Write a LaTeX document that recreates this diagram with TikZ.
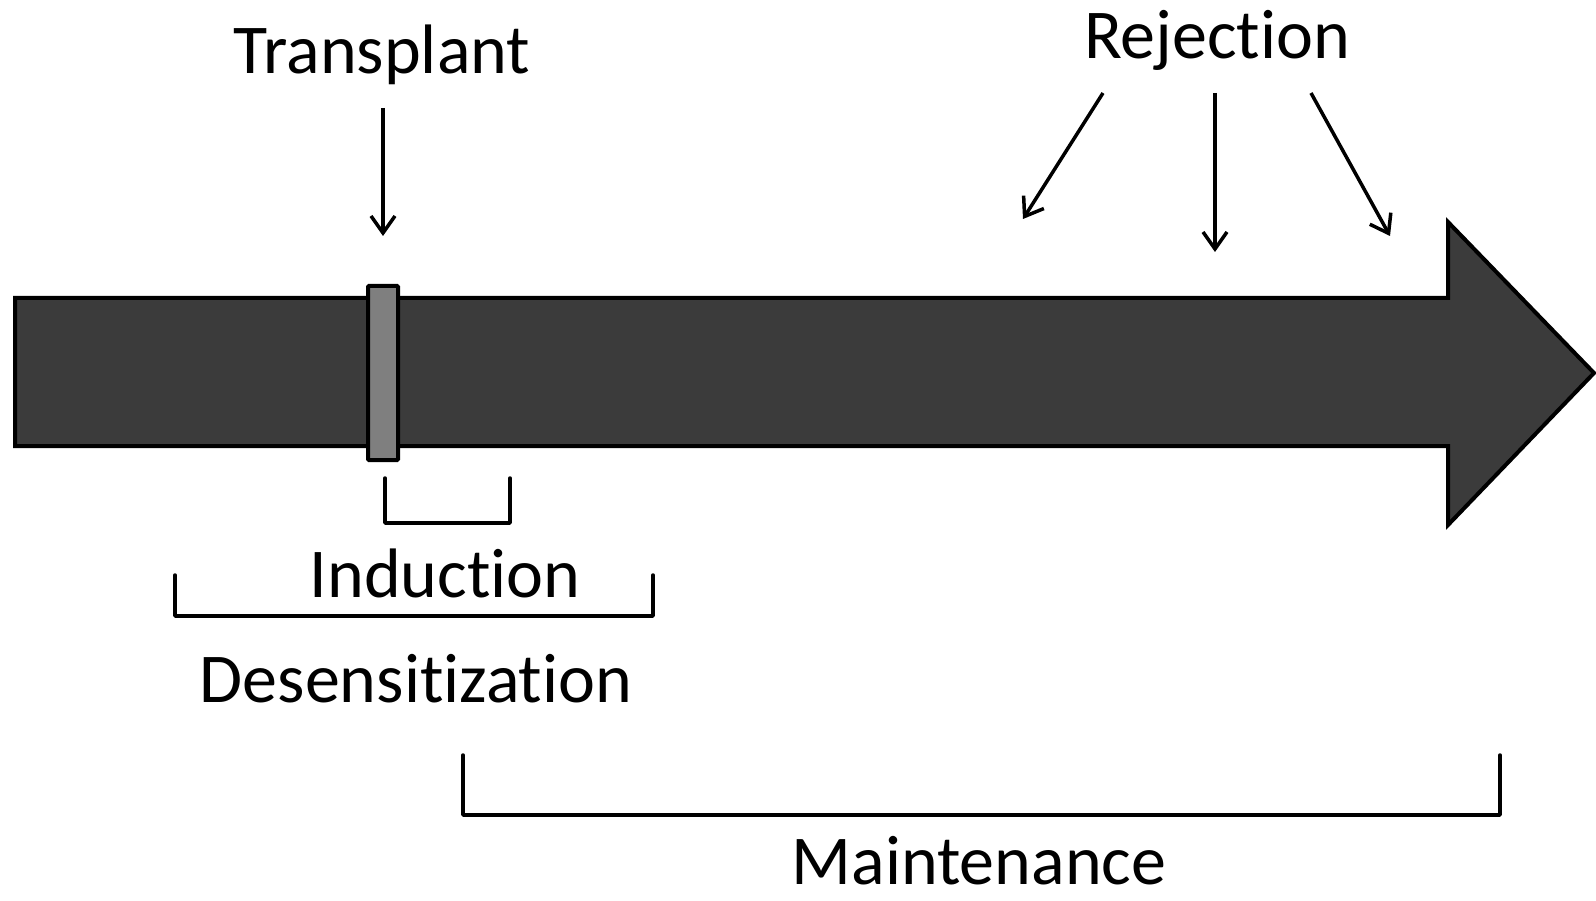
\documentclass[tikz,border=0pt]{standalone}
\usepackage{fontspec}
\setmainfont{Carlito}[Ligatures={NoCommon,NoContextual,NoRequired}]
\usetikzlibrary{arrows.meta}
\definecolor{arrowfill}{HTML}{3B3B3B}
\definecolor{barfill}{HTML}{7F7F7F}
\begin{document}
\begin{tikzpicture}[x=1pt,y=-1pt,
 lbl/.style={font=\fontsize{70}{84}\selectfont, anchor=base, inner sep=0pt},
 pointer/.style={line width=3.5pt, -{Straight Barb[length=17pt,width=24pt,line width=3.5pt]}},
 bracket/.style={line width=3.5pt, line cap=round, line join=round},
 bigarrow/.style={line width=4pt, fill=arrowfill, line join=miter},
 txbar/.style={line width=4pt, fill=barfill, rounded corners=1pt}
 ]
\useasboundingbox (0,0) rectangle (1596,901);
\fill[white] (0,0) rectangle (1596,901);
% timeline arrow
\draw[bigarrow] (15,298) -- (1448,298) -- (1448,222) -- (1594,373) -- (1448,525) -- (1448,446) -- (15,446) -- cycle;
% transplant bar
\draw[txbar] (368,286) rectangle (398,460);
% labels
\node[lbl] (tx) at (382,74) {Transplant};
\node[lbl] (rej) at (1217,59) {Rejec\kern0pt tion};
\node[lbl] (ind) at (445,597) {Induc\kern0pt tion};
\node[lbl] (des) at (416,702) {Desensit\kern0pt izat\kern0pt ion};
\node[lbl] (mai) at (979,884) {Maintenance};
% pointer coordinates
\coordinate (txs) at (383,108);
\coordinate (txe) at (383,236);
\coordinate (r1s) at (1103,93);
\coordinate (r1e) at (1023,219);
\coordinate (r2s) at (1215,93);
\coordinate (r2e) at (1215,252);
\coordinate (r3s) at (1311,93);
\coordinate (r3e) at (1390,236);
\draw[pointer] (txs) -- (txe);
\draw[pointer] (r1s) -- (r1e);
\draw[pointer] (r2s) -- (r2e);
\draw[pointer] (r3s) -- (r3e);
% brackets
\coordinate (ia) at (385,478);
\coordinate (ib) at (510,478);
\draw[bracket] (ia) -- (385,523) -- (510,523) -- (ib);
\coordinate (da) at (175,575);
\coordinate (db) at (653,575);
\draw[bracket] (da) -- (175,616) -- (653,616) -- (db);
\coordinate (ma) at (463,755);
\coordinate (mb) at (1500,755);
\draw[bracket] (ma) -- (463,815) -- (1500,815) -- (mb);
\end{tikzpicture}
\end{document}
